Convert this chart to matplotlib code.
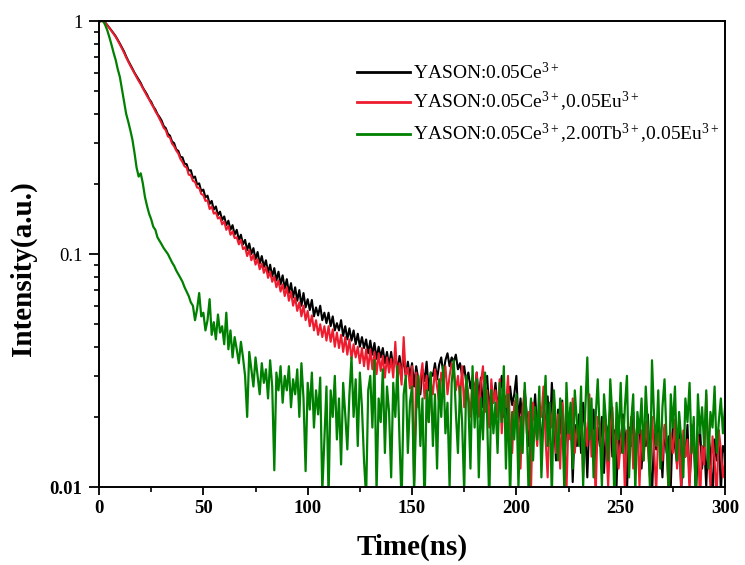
import numpy as np
import matplotlib
matplotlib.use("Agg")
import matplotlib.pyplot as plt
from matplotlib.ticker import LogLocator, NullFormatter, FixedLocator

# fluorescence decay curves, 1 ns per point,
# intensities stored in units of 1e-4 (10000 = 1.0)
time_ns = np.arange(0, 301)

ce = [
    9950, 10000, 10000, 9850, 9600, 9350, 9100, 8850, 8600, 8300,
    8000, 7700, 7400, 7050, 6750, 6500, 6250, 6000, 5800, 5600,
    5420, 5180, 5010, 4840, 4630, 4500, 4300, 4170, 3990, 3870,
    3740, 3540, 3470, 3280, 3220, 3040, 2990, 2810, 2770, 2610,
    2600, 2440, 2430, 2280, 2290, 2120, 2150, 1990, 2010, 1860,
    1890, 1750, 1780, 1640, 1690, 1550, 1600, 1470, 1520, 1400,
    1450, 1330, 1390, 1270, 1330, 1210, 1270, 1150, 1210, 1100,
    1150, 1040, 1110, 1000, 1060, 950, 1020, 910, 980, 880,
    940, 830, 900, 800, 870, 770, 840, 740, 810, 710,
    780, 680, 750, 650, 720, 630, 700, 600, 680, 590,
    640, 575, 635, 540, 590, 545, 600, 520, 560, 505,
    560, 490, 540, 470, 505, 470, 520, 445, 490, 430,
    480, 425, 470, 410, 455, 400, 440, 395, 430, 375,
    425, 370, 415, 355, 400, 360, 395, 340, 380, 330,
    380, 325, 370, 315, 365, 320, 350, 300, 345, 295,
    340, 270, 330, 290, 250, 320, 285, 345, 260, 310,
    300, 340, 290, 335, 360, 305, 350, 375, 330, 360,
    345, 370, 320, 340, 300, 330, 280, 310, 265, 295,
    250, 310, 240, 295, 220, 275, 300, 210, 265, 230,
    280, 215, 260, 300, 200, 245, 185, 270, 225, 250,
    300, 190, 240, 175, 260, 205, 150, 235, 195, 250,
    170, 225, 140, 210, 185, 245, 160, 280, 200, 130,
    215, 170, 235, 120, 195, 160, 220, 105, 185, 150,
    205, 140, 230, 175, 110, 195, 160, 215, 130, 180,
    150, 200, 115, 185, 165, 220, 135, 175, 100, 190,
    140, 205, 170, 95, 180, 150, 210, 125, 165, 190,
    120, 175, 150, 205, 130, 90, 170, 145, 195, 160,
    110, 180, 140, 165, 100, 190, 150, 125, 175, 95,
    160, 135, 185, 105, 150, 170, 90, 145, 180, 120,
    155, 100, 170, 140, 85, 160, 130, 175, 95, 150,
    140,
]

ce_eu = [
    9950, 10000, 9980, 9820, 9570, 9320, 9060, 8800, 8540, 8240,
    7930, 7620, 7310, 6980, 6700, 6430, 6190, 5950, 5740, 5530,
    5350, 5150, 4960, 4770, 4610, 4430, 4280, 4100, 3960, 3800,
    3650, 3480, 3400, 3200, 3160, 2980, 2900, 2780, 2700, 2560,
    2480, 2380, 2350, 2190, 2180, 2060, 2040, 1930, 1920, 1810,
    1790, 1690, 1700, 1560, 1600, 1490, 1510, 1420, 1440, 1340,
    1380, 1270, 1320, 1210, 1250, 1170, 1180, 1100, 1150, 1050,
    1070, 980, 1040, 940, 990, 900, 950, 860, 910, 830,
    880, 790, 840, 760, 800, 720, 770, 690, 740, 660,
    720, 630, 690, 600, 650, 570, 620, 540, 600, 520,
    570, 490, 545, 470, 520, 450, 500, 440, 490, 425,
    490, 420, 475, 400, 460, 395, 450, 380, 440, 370,
    430, 355, 410, 360, 400, 340, 395, 330, 390, 320,
    390, 320, 380, 305, 375, 315, 365, 295, 360, 310,
    355, 295, 420, 285, 340, 275, 440, 300, 325, 265,
    330, 105, 310, 220, 290, 340, 240, 300, 190, 280,
    250, 320, 270, 230, 310, 280, 330, 250, 300, 340,
    320, 260, 300, 240, 330, 220, 290, 250, 200, 300,
    240, 310, 200, 280, 330, 210, 260, 180, 290, 230,
    260, 200, 290, 170, 250, 220, 300, 180, 140, 230,
    240, 180, 120, 220, 260, 170, 210, 95, 230, 190,
    150, 230, 200, 270, 160, 110, 215, 180, 240, 140,
    205, 120, 230, 175, 95, 200, 160, 240, 140, 185,
    160, 215, 110, 190, 150, 250, 135, 175, 90, 200,
    185, 130, 205, 160, 100, 175, 220, 140, 185, 120,
    155, 195, 95, 175, 140, 200, 120, 160, 185, 100,
    175, 130, 190, 150, 110, 200, 145, 95, 170, 155,
    130, 185, 150, 90, 170, 140, 195, 120, 160, 100,
    175, 135, 160, 95, 185, 145, 120, 165, 85, 150,
    125, 250, 140, 100, 165, 130, 90, 175, 145, 110,
    130,
]

ce_tb_eu = [
    9950, 10000, 10000, 9600, 9100, 8500, 7900, 7300, 6800, 6200,
    5750, 5100, 4550, 4000, 3700, 3400, 3100, 2720, 2350, 2150,
    2220, 2010, 1760, 1610, 1490, 1410, 1310, 1270, 1180, 1140,
    1100, 1060, 1030, 1000, 960, 920, 890, 850, 820, 790,
    760, 720, 690, 660, 620, 600, 520, 580, 680, 540,
    560, 470, 520, 640, 450, 510, 430, 550, 460, 490,
    410, 560, 390, 470, 360, 440, 390, 340, 420, 360,
    300, 200, 380, 320, 270, 360, 300, 250, 340, 280,
    320, 240, 350, 270, 118, 310, 260, 330, 230, 300,
    260, 330, 220, 290, 250, 320, 200, 340, 240, 117,
    280, 215, 310, 180, 260, 205, 295, 95, 160, 270,
    90, 260, 200, 300, 160, 240, 125, 280, 205, 145,
    250, 360, 200, 290, 150, 310, 220, 130, 90, 260,
    300, 180, 350, 95, 240, 190, 320, 140, 270, 210,
    110, 280, 200, 330, 160, 85, 250, 300, 140, 230,
    270, 95, 210, 300, 150, 240, 80, 260, 190, 310,
    150, 250, 120, 290, 200, 330, 170, 230, 100, 280,
    350, 210, 140, 270, 190, 95, 300, 230, 120, 330,
    180, 290, 110, 240, 160, 310, 200, 85, 260, 170,
    230, 140, 280, 190, 330, 120, 250, 90, 210, 160,
    250, 100, 200, 140, 280, 180, 85, 240, 130, 220,
    160, 270, 110, 200, 300, 150, 230, 90, 260, 180,
    130, 240, 200, 95, 280, 170, 230, 120, 260, 190,
    150, 270, 100, 210, 360, 160, 240, 110, 200, 290,
    170, 100, 250, 190, 130, 290, 200, 85, 230, 160,
    280, 140, 220, 300, 110, 190, 250, 95, 210, 170,
    240, 130, 270, 180, 100, 350, 200, 150, 260, 120,
    220, 290, 160, 95, 250, 180, 270, 130, 210, 160,
    110, 240, 190, 280, 140, 200, 90, 250, 170, 220,
    150, 260, 120, 210, 180, 270, 140, 190, 240, 170,
    220,
]

labels = [
    r"YASON:0.05Ce$^{3+}$",
    r"YASON:0.05Ce$^{3+}$,0.05Eu$^{3+}$",
    r"YASON:0.05Ce$^{3+}$,2.00Tb$^{3+}$,0.05Eu$^{3+}$",
]
colors = ["black", "#ED1C2E", "#008000"]
widths = [1.5, 1.5, 1.6]

plt.rcParams["font.family"] = ["Liberation Serif", "DejaVu Serif"]
plt.rcParams["mathtext.fontset"] = "custom"
plt.rcParams["mathtext.rm"] = "Liberation Serif"
plt.rcParams["mathtext.it"] = "Liberation Serif"

fig = plt.figure(figsize=(7.45, 5.65), dpi=100)
ax = fig.add_axes([0.1329, 0.138, 0.8403, 0.8248])

for series, lab, col, w in zip([ce, ce_eu, ce_tb_eu], labels, colors, widths):
    ax.plot(time_ns, np.array(series) * 1e-4, color=col, lw=w, label=lab)

ax.set_yscale("log")
ax.set_xlim(0, 300)
ax.set_ylim(0.01, 1)

ax.xaxis.set_major_locator(FixedLocator([0, 50, 100, 150, 200, 250, 300]))
ax.xaxis.set_minor_locator(FixedLocator([25, 75, 125, 175, 225, 275]))
ax.yaxis.set_major_locator(FixedLocator([0.01, 0.1, 1]))
ax.yaxis.set_minor_locator(LogLocator(base=10, subs=np.arange(2, 10)))
ax.yaxis.set_minor_formatter(NullFormatter())
ax.set_yticklabels(["0.01", "0.1", "1"])

ax.tick_params(which="major", direction="out", length=6, width=1.3,
               labelsize=13.5, top=False, right=False)
ax.tick_params(axis="y", which="major", length=7, pad=5)
ax.tick_params(which="minor", direction="out", length=3.5, width=1.2,
               top=False, right=False)
for lbl in ax.get_xticklabels():
    lbl.set_fontweight("bold")
ylbls = ax.get_yticklabels()
ylbls[0].set_fontweight("bold")

for sp in ax.spines.values():
    sp.set_linewidth(1.4)

ax.set_xlabel("Time(ns)", fontsize=21, fontweight="bold", labelpad=12)
ax.set_ylabel("Intensity(a.u.)", fontsize=21, fontweight="bold")
ax.yaxis.set_label_coords(-0.099, 0.468)

leg = ax.legend(loc="upper left", bbox_to_anchor=(0.4, 0.93), frameon=False,
                fontsize=14, handlelength=2.7, handletextpad=0.15,
                labelspacing=0.4, borderaxespad=0)
for h in leg.get_lines():
    h.set_linewidth(2)

fig.savefig("out.png", dpi=100)
